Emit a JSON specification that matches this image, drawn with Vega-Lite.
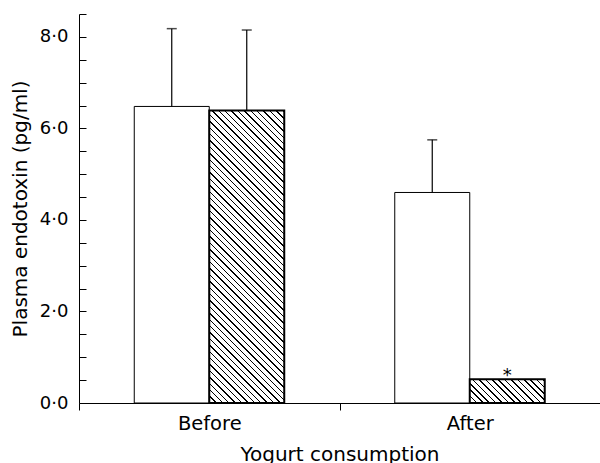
{
  "$schema": "https://vega.github.io/schema/vega-lite/v6.json",
  "width": 521,
  "height": 389,
  "autosize": {"type": "none"},
  "padding": {"left": 79, "top": 14, "right": 0, "bottom": 60},
  "background": "white",
  "config": {
    "view": {"stroke": null},
    "font": "DejaVu Sans",
    "axis": {
      "domainColor": "black", "domainWidth": 1,
      "labelColor": "black", "titleColor": "black", "titleFontWeight": "normal",
      "labelFont": "DejaVu Sans", "titleFont": "DejaVu Sans"
    }
  },
  "data": {
    "values": [
      {"time": "Before", "group": "Group A", "value": 6.48, "upper": 8.18},
      {"time": "Before", "group": "Group B", "value": 6.39, "upper": 8.15},
      {"time": "After", "group": "Group A", "value": 4.6, "upper": 5.75},
      {"time": "After", "group": "Group B", "value": 0.52, "upper": null}
    ]
  },
  "encoding": {
    "x": {
      "field": "time", "type": "nominal", "sort": ["Before", "After"],
      "scale": {"paddingInner": 0, "paddingOuter": 0},
      "axis": {
        "title": "Yogurt consumption", "labelAngle": 0, "tickBand": "extent", "tickSize": 7, "grid": false,
        "tickColor": "black", "tickWidth": 1,
        "labelFontSize": 19.5, "labelPadding": 4, "titleFontSize": 20,
        "titleBaseline": "alphabetic", "titleY": 57, "titleX": 260.5
      }
    },
    "xOffset": {
      "field": "group", "type": "nominal",
      "scale": {"domain": ["Group A", "Group B"], "paddingInner": 0, "paddingOuter": 0.7367}
    },
    "y": {
      "field": "value", "type": "quantitative",
      "scale": {"domain": [0, 8.5], "nice": false, "zero": true},
      "axis": {
        "orient": "left",
        "title": "Plasma endotoxin (pg/ml)",
        "tickCount": 17,
        "labelExpr": "datum.value % 2 == 0 ? replace(format(datum.value, '.1f'), '.', '·') : ''",
        "labelOverlap": false, "labelFlush": false,
        "ticks": true, "tickSize": -7, "tickColor": "#000000", "tickWidth": 1, "tickOpacity": 1,
        "labelPadding": 18, "labelFontSize": 18, "grid": false,
        "titleFontSize": 20, "titleX": -59, "titleY": 194.5, "titleBaseline": "middle", "titleAngle": -90,
        "zindex": 1
      }
    }
  },
  "layer": [
    {
      "transform": [{"filter": "datum.group == 'Group A'"}],
      "mark": {"type": "bar", "fill": "white", "stroke": "black", "strokeWidth": 1}
    },
    {
      "transform": [{"filter": "datum.group == 'Group B' && datum.time == 'Before'"}],
      "mark": {
        "type": "bar", "stroke": "black", "strokeWidth": 2,
        "fill": {
          "gradient": "linear", "x1": 0, "y1": 1, "x2": 0.3024, "y2": -0.1789,
          "stops": [
            {"offset":0,"color":"white"},{"offset":0,"color":"black"},{"offset":0.00408,"color":"black"},{"offset":0.00408,"color":"white"},
            {"offset":0.01742,"color":"white"},{"offset":0.01742,"color":"black"},{"offset":0.0215,"color":"black"},{"offset":0.0215,"color":"white"},
            {"offset":0.03484,"color":"white"},{"offset":0.03484,"color":"black"},{"offset":0.03892,"color":"black"},{"offset":0.03892,"color":"white"},
            {"offset":0.05226,"color":"white"},{"offset":0.05226,"color":"black"},{"offset":0.05634,"color":"black"},{"offset":0.05634,"color":"white"},
            {"offset":0.06968,"color":"white"},{"offset":0.06968,"color":"black"},{"offset":0.07376,"color":"black"},{"offset":0.07376,"color":"white"},
            {"offset":0.0871,"color":"white"},{"offset":0.0871,"color":"black"},{"offset":0.09118,"color":"black"},{"offset":0.09118,"color":"white"},
            {"offset":0.10452,"color":"white"},{"offset":0.10452,"color":"black"},{"offset":0.1086,"color":"black"},{"offset":0.1086,"color":"white"},
            {"offset":0.12194,"color":"white"},{"offset":0.12194,"color":"black"},{"offset":0.12602,"color":"black"},{"offset":0.12602,"color":"white"},
            {"offset":0.13936,"color":"white"},{"offset":0.13936,"color":"black"},{"offset":0.14344,"color":"black"},{"offset":0.14344,"color":"white"},
            {"offset":0.15678,"color":"white"},{"offset":0.15678,"color":"black"},{"offset":0.16086,"color":"black"},{"offset":0.16086,"color":"white"},
            {"offset":0.1742,"color":"white"},{"offset":0.1742,"color":"black"},{"offset":0.17828,"color":"black"},{"offset":0.17828,"color":"white"},
            {"offset":0.19162,"color":"white"},{"offset":0.19162,"color":"black"},{"offset":0.1957,"color":"black"},{"offset":0.1957,"color":"white"},
            {"offset":0.20904,"color":"white"},{"offset":0.20904,"color":"black"},{"offset":0.21312,"color":"black"},{"offset":0.21312,"color":"white"},
            {"offset":0.22646,"color":"white"},{"offset":0.22646,"color":"black"},{"offset":0.23054,"color":"black"},{"offset":0.23054,"color":"white"},
            {"offset":0.24388,"color":"white"},{"offset":0.24388,"color":"black"},{"offset":0.24796,"color":"black"},{"offset":0.24796,"color":"white"},
            {"offset":0.2613,"color":"white"},{"offset":0.2613,"color":"black"},{"offset":0.26538,"color":"black"},{"offset":0.26538,"color":"white"},
            {"offset":0.27872,"color":"white"},{"offset":0.27872,"color":"black"},{"offset":0.2828,"color":"black"},{"offset":0.2828,"color":"white"},
            {"offset":0.29614,"color":"white"},{"offset":0.29614,"color":"black"},{"offset":0.30022,"color":"black"},{"offset":0.30022,"color":"white"},
            {"offset":0.31356,"color":"white"},{"offset":0.31356,"color":"black"},{"offset":0.31764,"color":"black"},{"offset":0.31764,"color":"white"},
            {"offset":0.33098,"color":"white"},{"offset":0.33098,"color":"black"},{"offset":0.33506,"color":"black"},{"offset":0.33506,"color":"white"},
            {"offset":0.3484,"color":"white"},{"offset":0.3484,"color":"black"},{"offset":0.35248,"color":"black"},{"offset":0.35248,"color":"white"},
            {"offset":0.36582,"color":"white"},{"offset":0.36582,"color":"black"},{"offset":0.3699,"color":"black"},{"offset":0.3699,"color":"white"},
            {"offset":0.38324,"color":"white"},{"offset":0.38324,"color":"black"},{"offset":0.38732,"color":"black"},{"offset":0.38732,"color":"white"},
            {"offset":0.40066,"color":"white"},{"offset":0.40066,"color":"black"},{"offset":0.40474,"color":"black"},{"offset":0.40474,"color":"white"},
            {"offset":0.41808,"color":"white"},{"offset":0.41808,"color":"black"},{"offset":0.42216,"color":"black"},{"offset":0.42216,"color":"white"},
            {"offset":0.4355,"color":"white"},{"offset":0.4355,"color":"black"},{"offset":0.43958,"color":"black"},{"offset":0.43958,"color":"white"},
            {"offset":0.45292,"color":"white"},{"offset":0.45292,"color":"black"},{"offset":0.457,"color":"black"},{"offset":0.457,"color":"white"},
            {"offset":0.47034,"color":"white"},{"offset":0.47034,"color":"black"},{"offset":0.47442,"color":"black"},{"offset":0.47442,"color":"white"},
            {"offset":0.48776,"color":"white"},{"offset":0.48776,"color":"black"},{"offset":0.49184,"color":"black"},{"offset":0.49184,"color":"white"},
            {"offset":0.50518,"color":"white"},{"offset":0.50518,"color":"black"},{"offset":0.50926,"color":"black"},{"offset":0.50926,"color":"white"},
            {"offset":0.5226,"color":"white"},{"offset":0.5226,"color":"black"},{"offset":0.52668,"color":"black"},{"offset":0.52668,"color":"white"},
            {"offset":0.54002,"color":"white"},{"offset":0.54002,"color":"black"},{"offset":0.5441,"color":"black"},{"offset":0.5441,"color":"white"},
            {"offset":0.55744,"color":"white"},{"offset":0.55744,"color":"black"},{"offset":0.56152,"color":"black"},{"offset":0.56152,"color":"white"},
            {"offset":0.57486,"color":"white"},{"offset":0.57486,"color":"black"},{"offset":0.57894,"color":"black"},{"offset":0.57894,"color":"white"},
            {"offset":0.59228,"color":"white"},{"offset":0.59228,"color":"black"},{"offset":0.59636,"color":"black"},{"offset":0.59636,"color":"white"},
            {"offset":0.6097,"color":"white"},{"offset":0.6097,"color":"black"},{"offset":0.61378,"color":"black"},{"offset":0.61378,"color":"white"},
            {"offset":0.62712,"color":"white"},{"offset":0.62712,"color":"black"},{"offset":0.6312,"color":"black"},{"offset":0.6312,"color":"white"},
            {"offset":0.64454,"color":"white"},{"offset":0.64454,"color":"black"},{"offset":0.64862,"color":"black"},{"offset":0.64862,"color":"white"},
            {"offset":0.66196,"color":"white"},{"offset":0.66196,"color":"black"},{"offset":0.66604,"color":"black"},{"offset":0.66604,"color":"white"},
            {"offset":0.67938,"color":"white"},{"offset":0.67938,"color":"black"},{"offset":0.68346,"color":"black"},{"offset":0.68346,"color":"white"},
            {"offset":0.6968,"color":"white"},{"offset":0.6968,"color":"black"},{"offset":0.70088,"color":"black"},{"offset":0.70088,"color":"white"},
            {"offset":0.71422,"color":"white"},{"offset":0.71422,"color":"black"},{"offset":0.7183,"color":"black"},{"offset":0.7183,"color":"white"},
            {"offset":0.73164,"color":"white"},{"offset":0.73164,"color":"black"},{"offset":0.73572,"color":"black"},{"offset":0.73572,"color":"white"},
            {"offset":0.74906,"color":"white"},{"offset":0.74906,"color":"black"},{"offset":0.75314,"color":"black"},{"offset":0.75314,"color":"white"},
            {"offset":0.76648,"color":"white"},{"offset":0.76648,"color":"black"},{"offset":0.77056,"color":"black"},{"offset":0.77056,"color":"white"},
            {"offset":0.7839,"color":"white"},{"offset":0.7839,"color":"black"},{"offset":0.78798,"color":"black"},{"offset":0.78798,"color":"white"},
            {"offset":0.80132,"color":"white"},{"offset":0.80132,"color":"black"},{"offset":0.8054,"color":"black"},{"offset":0.8054,"color":"white"},
            {"offset":0.81874,"color":"white"},{"offset":0.81874,"color":"black"},{"offset":0.82282,"color":"black"},{"offset":0.82282,"color":"white"},
            {"offset":0.83616,"color":"white"},{"offset":0.83616,"color":"black"},{"offset":0.84024,"color":"black"},{"offset":0.84024,"color":"white"},
            {"offset":0.85358,"color":"white"},{"offset":0.85358,"color":"black"},{"offset":0.85766,"color":"black"},{"offset":0.85766,"color":"white"},
            {"offset":0.871,"color":"white"},{"offset":0.871,"color":"black"},{"offset":0.87508,"color":"black"},{"offset":0.87508,"color":"white"},
            {"offset":0.88842,"color":"white"},{"offset":0.88842,"color":"black"},{"offset":0.8925,"color":"black"},{"offset":0.8925,"color":"white"},
            {"offset":0.90584,"color":"white"},{"offset":0.90584,"color":"black"},{"offset":0.90992,"color":"black"},{"offset":0.90992,"color":"white"},
            {"offset":0.92326,"color":"white"},{"offset":0.92326,"color":"black"},{"offset":0.92734,"color":"black"},{"offset":0.92734,"color":"white"},
            {"offset":0.94068,"color":"white"},{"offset":0.94068,"color":"black"},{"offset":0.94476,"color":"black"},{"offset":0.94476,"color":"white"},
            {"offset":0.9581,"color":"white"},{"offset":0.9581,"color":"black"},{"offset":0.96218,"color":"black"},{"offset":0.96218,"color":"white"},
            {"offset":0.97552,"color":"white"},{"offset":0.97552,"color":"black"},{"offset":0.9796,"color":"black"},{"offset":0.9796,"color":"white"},
            {"offset":0.99294,"color":"white"},{"offset":0.99294,"color":"black"},{"offset":0.99702,"color":"black"},{"offset":0.99702,"color":"white"},
            {"offset":1,"color":"white"}
          ]
        }
      }
    },
    {
      "transform": [{"filter": "datum.group == 'Group B' && datum.time == 'After'"}],
      "mark": {
        "type": "bar", "stroke": "black", "strokeWidth": 2,
        "fill": {
          "gradient": "linear", "x1": 0, "y1": 1, "x2": 1.1968, "y2": 0.6202,
          "stops": [
            {"offset":0,"color":"white"},{"offset":0,"color":"black"},{"offset":0.01518,"color":"black"},{"offset":0.01518,"color":"white"},
            {"offset":0.06478,"color":"white"},{"offset":0.06478,"color":"black"},{"offset":0.07996,"color":"black"},{"offset":0.07996,"color":"white"},
            {"offset":0.12955,"color":"white"},{"offset":0.12955,"color":"black"},{"offset":0.14473,"color":"black"},{"offset":0.14473,"color":"white"},
            {"offset":0.19433,"color":"white"},{"offset":0.19433,"color":"black"},{"offset":0.20951,"color":"black"},{"offset":0.20951,"color":"white"},
            {"offset":0.25911,"color":"white"},{"offset":0.25911,"color":"black"},{"offset":0.27429,"color":"black"},{"offset":0.27429,"color":"white"},
            {"offset":0.32389,"color":"white"},{"offset":0.32389,"color":"black"},{"offset":0.33907,"color":"black"},{"offset":0.33907,"color":"white"},
            {"offset":0.38866,"color":"white"},{"offset":0.38866,"color":"black"},{"offset":0.40384,"color":"black"},{"offset":0.40384,"color":"white"},
            {"offset":0.45344,"color":"white"},{"offset":0.45344,"color":"black"},{"offset":0.46862,"color":"black"},{"offset":0.46862,"color":"white"},
            {"offset":0.51822,"color":"white"},{"offset":0.51822,"color":"black"},{"offset":0.5334,"color":"black"},{"offset":0.5334,"color":"white"},
            {"offset":0.583,"color":"white"},{"offset":0.583,"color":"black"},{"offset":0.59818,"color":"black"},{"offset":0.59818,"color":"white"},
            {"offset":0.64777,"color":"white"},{"offset":0.64777,"color":"black"},{"offset":0.66295,"color":"black"},{"offset":0.66295,"color":"white"},
            {"offset":0.71255,"color":"white"},{"offset":0.71255,"color":"black"},{"offset":0.72773,"color":"black"},{"offset":0.72773,"color":"white"},
            {"offset":0.77733,"color":"white"},{"offset":0.77733,"color":"black"},{"offset":0.79251,"color":"black"},{"offset":0.79251,"color":"white"},
            {"offset":0.84211,"color":"white"},{"offset":0.84211,"color":"black"},{"offset":0.85729,"color":"black"},{"offset":0.85729,"color":"white"},
            {"offset":0.90688,"color":"white"},{"offset":0.90688,"color":"black"},{"offset":0.92206,"color":"black"},{"offset":0.92206,"color":"white"},
            {"offset":0.97166,"color":"white"},{"offset":0.97166,"color":"black"},{"offset":0.98684,"color":"black"},{"offset":0.98684,"color":"white"},
            {"offset":1,"color":"white"}
          ]
        }
      }
    },
    {
      "transform": [{"filter": "isValid(datum.upper)"}],
      "mark": {"type": "rule", "color": "black", "strokeWidth": 1.2},
      "encoding": {
        "y": {"field": "value", "type": "quantitative"},
        "y2": {"field": "upper"}
      }
    },
    {
      "transform": [{"filter": "isValid(datum.upper)"}],
      "mark": {"type": "tick", "color": "black", "thickness": 1.5, "size": 10, "orient": "horizontal"},
      "encoding": {
        "y": {"field": "upper", "type": "quantitative"}
      }
    },
    {
      "transform": [{"filter": "datum.group == 'Group B' && datum.time == 'After'"}],
      "mark": {"type": "text", "text": "*", "fontSize": 18, "font": "DejaVu Sans", "baseline": "alphabetic", "dy": 2, "color": "black"}
    }
  ]
}
